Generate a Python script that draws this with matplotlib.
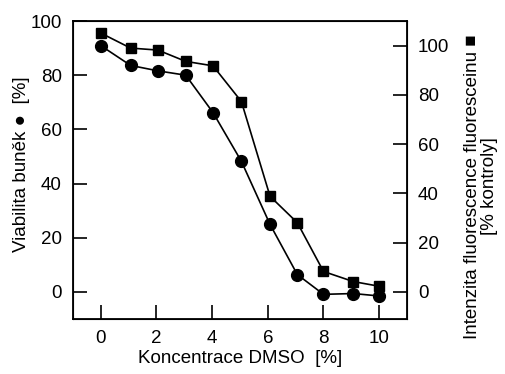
import matplotlib
matplotlib.use('Agg')
import matplotlib.pyplot as plt

plt.rcParams['font.family'] = ['Liberation Sans', 'DejaVu Sans']

## Data ##
koncentrace = [0, 1.07, 2.05, 3.05, 4.03, 5.05, 6.08, 7.06, 8.0, 9.07, 10]
viabilita = [90.9, 83.6, 81.6, 80.0, 66.2, 48.2, 24.9, 6.4, -0.9, -0.6, -1.5]
fluorescence = [105.1, 99.0, 98.2, 93.6, 91.8, 77.3, 38.8, 28.1, 8.3, 4.2, 2.3]

x_ticks = [0, 2, 4, 6, 8, 10]
y_ticks = [0, 20, 40, 60, 80, 100]

fig = plt.figure(figsize=(5.06, 3.74), dpi=100)
ax = fig.add_axes([73/506, 55/374, 334/506, 298/374])
ax2 = ax.twinx()

ax.plot(koncentrace, viabilita, 'k-', lw=1.2, marker='o', ms=8.5)
ax2.plot(koncentrace, fluorescence, 'k-', lw=1.2, marker='s', ms=7.5)

ax.set_xlim(-1, 11)
ax.set_ylim(-10, 100)
ax2.set_ylim(-11, 110)
ax.set_xticks(x_ticks)
ax.set_yticks(y_ticks)
ax2.set_yticks(y_ticks)

ax.tick_params(axis='both', direction='in', length=10, width=1.2,
               labelsize=13.5, pad=8, top=False, right=False)
ax2.tick_params(axis='y', direction='in', length=10, width=1.2,
                labelsize=13.5, pad=8)
for sp in ax.spines.values():
    sp.set_linewidth(1.3)

ax.set_xlabel('Koncentrace DMSO  [%]', fontsize=13.5, labelpad=2)
ax.set_ylabel('Viabilita buněk \u25CF  [%]', fontsize=13.5)
ax.yaxis.set_label_coords(-0.13, 0.52)
ax2.set_ylabel('Intenzita fluorescence fluoresceinu \u25A0\n[% kontroly]',
               fontsize=13.5, rotation=90, linespacing=1.0)
ax2.yaxis.set_label_coords(1.17, 0.445)

plt.savefig('out.png', dpi=100)
plt.close(fig)
